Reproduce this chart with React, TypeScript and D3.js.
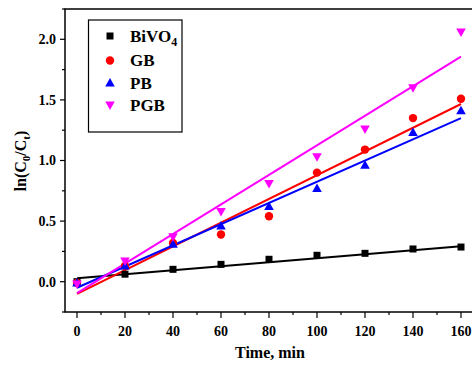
import React from "react";
import * as d3 from "d3";

// reaction time, min
const times = [0, 20, 40, 60, 80, 100, 120, 140, 160];

// ln(C0/Ct) per sample
const bivo4 = [0.0, 0.062, 0.102, 0.143, 0.185, 0.218, 0.234, 0.27, 0.286];
const gb = [-0.01, 0.13, 0.32, 0.39, 0.54, 0.9, 1.09, 1.35, 1.51];
const pb = [-0.01, 0.13, 0.31, 0.46, 0.62, 0.77, 0.96, 1.23, 1.41];
const pgb = [-0.02, 0.17, 0.37, 0.58, 0.81, 1.03, 1.26, 1.6, 2.06];

// fitted line ends at t=0 and t=160
const fitBivo4 = [0.028, 0.293];
const fitGb = [-0.1, 1.466];
const fitPb = [-0.05, 1.35];
const fitPgb = [-0.095, 1.857];

const xTicks = [0, 20, 40, 60, 80, 100, 120, 140, 160];
const yTicks = [0.0, 0.5, 1.0, 1.5, 2.0];

const FONT = "'Liberation Serif', 'Times New Roman', serif";

type Series = { name: string; values: number[]; fit: number[]; color: string; shape: string };

const series: Series[] = [
  { name: "BiVO4", values: bivo4, fit: fitBivo4, color: "#000000", shape: "square" },
  { name: "GB", values: gb, fit: fitGb, color: "#ff0000", shape: "circle" },
  { name: "PB", values: pb, fit: fitPb, color: "#0000ff", shape: "up" },
  { name: "PGB", values: pgb, fit: fitPgb, color: "#ff00ff", shape: "down" },
];

const Marker = ({ shape, x, y, color }: { shape: string; x: number; y: number; color: string }) => {
  if (shape === "square") return <rect x={x - 3.5} y={y - 3.5} width={7} height={7} fill={color} />;
  if (shape === "circle") return <circle cx={x} cy={y} r={4.2} fill={color} />;
  if (shape === "up")
    return <path d={`M${x},${y - 5} L${x + 4.8},${y + 3.5} L${x - 4.8},${y + 3.5} Z`} fill={color} />;
  return <path d={`M${x},${y + 5} L${x + 4.8},${y - 3.5} L${x - 4.8},${y - 3.5} Z`} fill={color} />;
};

export default function App() {
  const W = 472;
  const H = 365;
  const left = 65;
  const top = 9;
  const bottom = 312;
  const right = 473;

  const x = d3.scaleLinear().domain([-5, 165]).range([left, right]);
  const y = d3.scaleLinear().domain([-0.25, 2.25]).range([bottom, top]);

  const xMinor = d3.range(10, 170, 20);
  const yMinor = d3.range(-0.25, 2.3, 0.5);

  const line = d3
    .line<[number, number]>()
    .x((d) => x(d[0]))
    .y((d) => y(d[1]));

  return (
    <svg
      width={W}
      height={H}
      style={{ position: "absolute", left: 0, top: 0, background: "#fff" }}
      fontFamily={FONT}
      fontWeight="bold"
    >
      {/* fit lines */}
      {series.map((s) => (
        <path
          key={s.name + "-fit"}
          d={line([
            [0, s.fit[0]],
            [160, s.fit[1]],
          ]) as string}
          stroke={s.color}
          strokeWidth={2}
          fill="none"
        />
      ))}

      {/* points */}
      {series.map((s) =>
        s.values.map((v, i) => (
          <Marker key={s.name + i} shape={s.shape} x={x(times[i])} y={y(v)} color={s.color} />
        ))
      )}

      {/* frame */}
      <rect x={left} y={top} width={right - left} height={bottom - top} fill="none" stroke="#000" strokeWidth={1.5} />

      {/* x axis ticks */}
      {xTicks.map((t) => (
        <g key={"xt" + t}>
          <line x1={x(t)} x2={x(t)} y1={bottom} y2={bottom + 6} stroke="#000" strokeWidth={1.2} />
          <text x={x(t)} y={336} textAnchor="middle" fontSize={14}>
            {t}
          </text>
        </g>
      ))}
      {xMinor.map((t) => (
        <line key={"xm" + t} x1={x(t)} x2={x(t)} y1={bottom} y2={bottom + 3} stroke="#000" strokeWidth={1.2} />
      ))}

      {/* y axis ticks */}
      {yTicks.map((t) => (
        <g key={"yt" + t}>
          <line x1={left - 5} x2={left} y1={y(t)} y2={y(t)} stroke="#000" strokeWidth={1.2} />
          <text x={56} y={y(t)} dy="0.35em" textAnchor="end" fontSize={14}>
            {t.toFixed(1)}
          </text>
        </g>
      ))}
      {yMinor.map((t) => (
        <line key={"ym" + t} x1={left - 3} x2={left} y1={y(t)} y2={y(t)} stroke="#000" strokeWidth={1.2} />
      ))}

      {/* axis titles */}
      <text x={270} y={358} textAnchor="middle" fontSize={16}>
        Time, min
      </text>
      <text transform="translate(26,161) rotate(-90)" textAnchor="middle" fontSize={16}>
        ln(C
        <tspan fontSize={11} dy={4}>0</tspan>
        <tspan dy={-4}>/C</tspan>
        <tspan fontSize={11} dy={4}>t</tspan>
        <tspan dy={-4}>)</tspan>
      </text>

      {/* legend */}
      <rect x={88.5} y={20} width={93.5} height={112} fill="#fff" stroke="#000" strokeWidth={1.2} />
      {series.map((s, i) => {
        const ly = [36, 60.5, 83, 105][i];
        return (
          <g key={"lg" + s.name}>
            <Marker shape={s.shape} x={110} y={ly} color={s.color} />
            <text x={130} y={ly} dy="0.35em" fontSize={17}>
              {s.name === "BiVO4" ? (
                <>
                  BiVO<tspan fontSize={12} dy={4}>4</tspan>
                </>
              ) : (
                s.name
              )}
            </text>
          </g>
        );
      })}
    </svg>
  );
}
